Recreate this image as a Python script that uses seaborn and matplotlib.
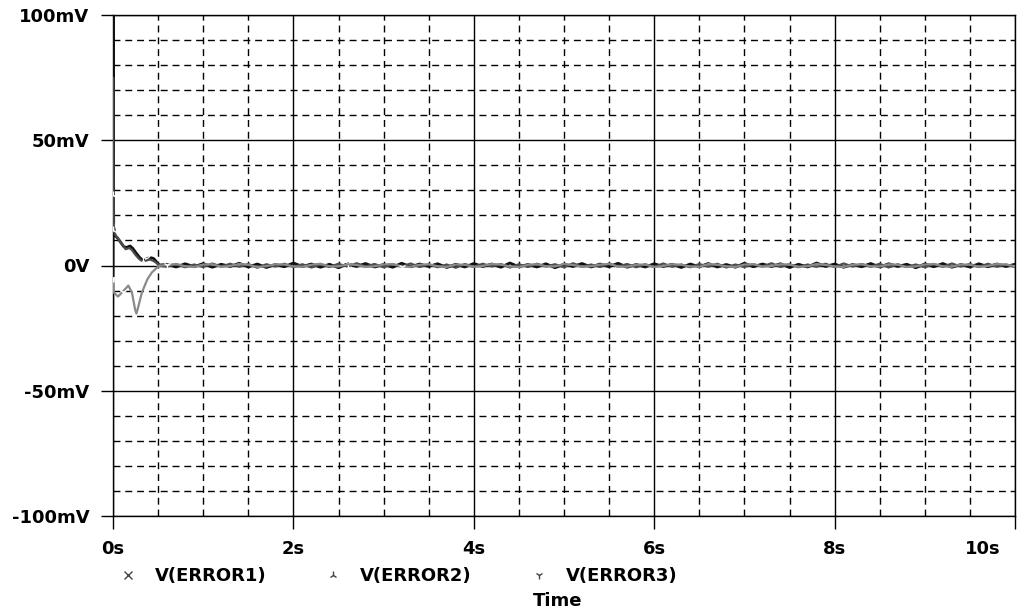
import numpy as np
import pandas as pd
import matplotlib
matplotlib.use("Agg")
import matplotlib.pyplot as plt
import matplotlib.transforms as mtransforms
from matplotlib.lines import Line2D
import seaborn as sns

# ---------------- data (mV vs seconds) ----------------
series_names = ["V(ERROR1)", "V(ERROR2)", "V(ERROR3)"]

t1_head = [0.0, 0.002, 0.004, 0.008, 0.02, 0.05, 0.08, 0.12, 0.15, 0.19, 0.22, 0.26,
           0.30, 0.33, 0.37, 0.41, 0.45, 0.48, 0.50, 0.52]
e1_head = [-5.6, 105.0, 40.0, 16.0, 12.0, 11.0, 9.5, 7.5, 7.2, 7.8, 6.8, 4.8,
           3.0, 2.2, 2.6, 3.2, 2.8, 1.6, 0.6, 0.2]

t2_head = [0.0, 0.001, 0.002, 0.004, 0.006, 0.01, 0.03, 0.06, 0.10, 0.14, 0.18, 0.21,
           0.25, 0.29, 0.33, 0.37, 0.41, 0.45, 0.49, 0.53]
e2_head = [14.0, 75.0, 45.0, 28.0, 18.0, 14.0, 12.0, 10.5, 8.5, 6.5, 7.0, 6.2,
           4.2, 2.6, 1.6, 2.0, 2.4, 1.8, 0.8, -0.2]

t3_head = [0.0, 0.01, 0.055, 0.11, 0.17, 0.21, 0.245, 0.26, 0.28, 0.32, 0.38, 0.43,
           0.49, 0.52]
e3_head = [-5.0, -10.8, -12.4, -10.4, -8.0, -10.8, -17.6, -19.2, -16.5, -10.8, -5.6, -2.8,
           -0.8, 0.0]

t_tail = [0.6, 0.7, 0.8, 0.9, 1.0, 1.1, 1.2, 1.3, 1.4, 1.5,
          1.6, 1.7, 1.8, 1.9, 2.0, 2.1, 2.2, 2.3, 2.4, 2.5,
          2.6, 2.7, 2.8, 2.9, 3.0, 3.1, 3.2, 3.3, 3.4, 3.5,
          3.6, 3.7, 3.8, 3.9, 4.0, 4.1, 4.2, 4.3, 4.4, 4.5,
          4.6, 4.7, 4.8, 4.9, 5.0, 5.1, 5.2, 5.3, 5.4, 5.5,
          5.6, 5.7, 5.8, 5.9, 6.0, 6.1, 6.2, 6.3, 6.4, 6.5,
          6.6, 6.7, 6.8, 6.9, 7.0, 7.1, 7.2, 7.3, 7.4, 7.5,
          7.6, 7.7, 7.8, 7.9, 8.0, 8.1, 8.2, 8.3, 8.4, 8.5,
          8.6, 8.7, 8.8, 8.9, 9.0, 9.1, 9.2, 9.3, 9.4, 9.5,
          9.6, 9.7, 9.8, 9.9, 10.0]
e1_tail = [0.4, -0.6, 0.7, -0.5, 0.8, -0.7, 0.5, -0.4, 0.9, -0.6,
           0.6, -0.8, 0.4, -0.5, 1.0, -0.4, 0.6, -0.7, 0.5, -0.9,
           0.7, -0.4, 0.8, -0.6, 0.4, -0.7, 0.9, -0.5, 0.6, -0.4,
           0.7, -0.8, 0.5, -0.6, 0.8, -0.4, 0.6, -0.7, 1.0, -0.5,
           0.4, -0.6, 0.7, -0.9, 0.5, -0.4, 0.8, -0.6, 0.6, -0.5,
           0.9, -0.7, 0.4, -0.6, 0.7, -0.4, 0.5, -0.8, 0.6, -0.5,
           0.8, -0.6, 0.4, -0.7, 0.9, -0.5, 0.6, -0.4, 0.7, -0.8,
           0.5, -0.6, 1.0, -0.4, 0.6, -0.7, 0.4, -0.5, 0.8, -0.6,
           0.7, -0.4, 0.5, -0.9, 0.6, -0.5, 0.8, -0.7, 0.4, -0.6,
           0.7, -0.5, 0.6, -0.4, 0.5]
e2_tail = [-0.5, 0.6, -0.7, 0.4, -0.6, 0.8, -0.4, 0.7, -0.5, 0.6,
           -0.9, 0.5, -0.4, 0.7, -0.6, 0.5, -0.8, 0.4, -0.6, 0.7,
           -0.5, 0.9, -0.4, 0.6, -0.7, 0.5, -0.4, 0.8, -0.6, 0.5,
           -0.7, 0.4, -0.9, 0.6, -0.5, 0.7, -0.4, 0.6, -0.8, 0.5,
           -0.6, 0.7, -0.4, 0.5, -0.7, 0.9, -0.5, 0.4, -0.6, 0.8,
           -0.4, 0.6, -0.7, 0.5, -0.6, 0.8, -0.5, 0.4, -0.7, 0.6,
           -0.5, 0.7, -0.8, 0.4, -0.6, 0.5, -0.4, 0.9, -0.6, 0.5,
           -0.7, 0.4, -0.5, 0.7, -0.6, 0.8, -0.4, 0.6, -0.5, 0.7,
           -0.8, 0.5, -0.6, 0.4, -0.7, 0.6, -0.5, 0.8, -0.4, 0.6,
           -0.6, 0.7, -0.5, 0.4, -0.6]
e3_tail = [0.2, 0.6, -0.3, -0.6, 0.4, 0.5, -0.5, -0.2, 0.6, 0.3,
           -0.6, -0.3, 0.5, 0.4, -0.4, -0.5, 0.3, 0.7, -0.3, -0.4,
           0.5, 0.2, -0.6, -0.3, 0.4, 0.6, -0.4, -0.5, 0.3, 0.5,
           -0.3, -0.6, 0.4, 0.3, -0.5, -0.2, 0.6, 0.4, -0.4, -0.6,
           0.3, 0.5, -0.3, -0.4, 0.6, 0.2, -0.5, -0.3, 0.4, 0.6,
           -0.4, -0.5, 0.3, 0.4, -0.6, -0.2, 0.5, 0.3, -0.4, -0.5,
           0.6, 0.3, -0.3, -0.6, 0.4, 0.5, -0.4, -0.2, 0.5, 0.4,
           -0.5, -0.3, 0.6, 0.2, -0.4, -0.6, 0.3, 0.5, -0.3, -0.4,
           0.5, 0.3, -0.6, -0.4, 0.4, 0.6, -0.3, -0.5, 0.4, 0.3,
           -0.5, -0.2, 0.6, 0.4, -0.3]

x_tick_vals = [0, 2, 4, 6, 8, 10]
x_tick_labels = ["0s", "2s", "4s", "6s", "8s", "10s"]
y_tick_vals = [-100, -50, 0, 50, 100]
y_tick_labels = ["-100mV", "-50mV", "0V", "50mV", "100mV"]

# ---------------- styling ----------------
sns.set_style("white")
plt.rcParams["font.family"] = ["DejaVu Sans"]
plt.rcParams["text.color"] = "black"
plt.rcParams["xtick.color"] = "black"
plt.rcParams["ytick.color"] = "black"
FS = 13

colors = ["#111111", "#4d4d4d", "#8a8a8a"]
markers = ["x", "2", "1"]

fig = plt.figure(figsize=(10.24, 6.16), dpi=100)
ax = fig.add_axes([113 / 1024, 1 - 516 / 616, (1015 - 113) / 1024, (516 - 15) / 616])

frames = []
for name, th, eh, et in [(series_names[0], t1_head, e1_head, e1_tail),
                         (series_names[1], t2_head, e2_head, e2_tail),
                         (series_names[2], t3_head, e3_head, e3_tail)]:
    frames.append(pd.DataFrame({"t": list(th) + list(t_tail),
                                "v": list(eh) + list(et),
                                "series": name}))
df = pd.concat(frames, ignore_index=True)

for name, c, m, lw in zip(series_names, colors, markers, [2.0, 1.6, 1.6]):
    sub = df[df["series"] == name]
    sns.lineplot(data=sub, x="t", y="v", ax=ax, color=c, lw=lw, sort=False,
                 estimator=None, marker=m, markersize=6, markeredgewidth=1.0,
                 markevery=[0, 3, 14, 40], zorder=3, clip_on=True)

ax.set_xlim(0, 10)
ax.set_ylim(-100, 100)
ax.set_xticks(x_tick_vals)
ax.set_xticklabels(x_tick_labels)
ax.set_yticks(y_tick_vals)
ax.set_yticklabels(y_tick_labels)
ax.set_xticks(np.array([0.5, 1, 1.5, 2.5, 3, 3.5, 4.5, 5, 5.5, 6.5, 7, 7.5, 8.5, 9, 9.5]), minor=True)
ax.set_yticks(np.array([-90, -80, -70, -60, -40, -30, -20, -10, 10, 20, 30, 40, 60, 70, 80, 90]), minor=True)
ax.grid(which="major", color="black", lw=1.0, ls="-", zorder=1)
ax.grid(which="minor", color="black", lw=1.0, ls=(0, (5, 3.5)), zorder=1)
ax.set_axisbelow(True)
ax.tick_params(which="major", direction="out", length=9, width=1.0, color="black",
               labelsize=FS, labelcolor="black", pad=8, bottom=True, left=True)
ax.tick_params(which="minor", length=0)
for lab in ax.get_xticklabels() + ax.get_yticklabels():
    lab.set_fontweight("bold")
# last x label sits inside the frame, left of its tick
last = ax.get_xticklabels()[-1]
last.set_horizontalalignment("right")
last.set_transform(last.get_transform() + mtransforms.ScaledTranslation(-14 / 100, 0, fig.dpi_scale_trans))
for s in ax.spines.values():
    s.set_color("black")
    s.set_linewidth(1.0)
ax.set_xlabel("")
ax.set_ylabel("")

handles = [Line2D([], [], ls="none", marker=m, color="#444444", markersize=6, markeredgewidth=1.0)
           for m in markers]
leg = fig.legend(handles, series_names, loc="center", bbox_to_anchor=(398 / 1024, 1 - 576 / 616),
                 ncol=3, frameon=False, handlelength=1.0, handletextpad=1.0,
                 columnspacing=3.2, prop={"size": FS, "weight": "bold"})
for txt in leg.get_texts():
    txt.set_color("black")
fig.text(558 / 1024, 1 - 601 / 616, "Time", ha="center", va="center",
         fontsize=FS, fontweight="bold", color="black")

fig.savefig("out.png", dpi=100)
